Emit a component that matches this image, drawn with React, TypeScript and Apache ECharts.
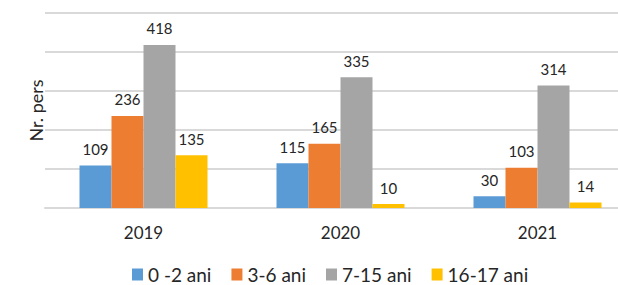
import React, { useEffect, useRef } from "react";
import * as echarts from "echarts";

const categories = ["2019", "2020", "2021"];
const seriesNames = ["0 -2 ani", "3-6 ani", "7-15 ani", "16-17 ani"];
const values0_2 = [109, 115, 30];
const values3_6 = [236, 165, 103];
const values7_15 = [418, 335, 314];
const values16_17 = [135, 10, 14];
const colors = ["#5B9BD5", "#ED7D31", "#A5A5A5", "#FFC000"];

const FONT = "Lato, 'Open Sans', sans-serif";
const TEXT = "#262626";

export default function App() {
  const ref = useRef<HTMLDivElement>(null);
  useEffect(() => {
    if (!ref.current) return;
    const chart = echarts.init(ref.current, undefined, { renderer: "svg" });
    const data = [values0_2, values3_6, values7_15, values16_17];
    chart.setOption({
      animation: false,
      backgroundColor: "#ffffff",
      textStyle: { fontFamily: FONT },
      grid: { left: 45, top: 13, width: 591, height: 195 },
      legend: {
        bottom: 1,
        left: 132,
        padding: 0,
        itemWidth: 11,
        itemHeight: 12,
        itemGap: 20,
        icon: "rect",
        textStyle: { fontSize: 19, color: TEXT, fontFamily: FONT },
        data: seriesNames,
      },
      xAxis: {
        type: "category",
        data: categories,
        axisTick: { show: false },
        axisLine: { lineStyle: { color: "#D9D9D9", width: 2 } },
        axisLabel: { fontSize: 17, color: TEXT, margin: 16, fontFamily: FONT },
      },
      yAxis: {
        type: "value",
        min: 0,
        max: 500,
        interval: 100,
        name: "Nr. pers",
        nameLocation: "middle",
        nameGap: 0,
        nameTextStyle: { fontSize: 18, color: TEXT, fontFamily: FONT },
        axisLabel: { show: false },
        axisTick: { show: false },
        axisLine: { show: false },
        splitLine: { lineStyle: { color: "#D9D9D9", width: 2 } },
      },
      series: seriesNames.map((name, i) => ({
        name,
        type: "bar",
        data: data[i],
        barWidth: 32,
        barGap: "0%",
        itemStyle: { color: colors[i] },
        label: {
          show: true,
          position: "top",
          distance: 9,
          fontSize: 15,
          color: TEXT,
          fontFamily: FONT,
        },
      })),
    });
    return () => chart.dispose();
  }, []);
  return (
    <div
      style={{
        position: "fixed",
        left: 0,
        top: 0,
        width: 618,
        height: 285,
        overflow: "hidden",
        background: "#fff",
      }}
    >
      <div ref={ref} style={{ width: 640, height: 285 }} />
    </div>
  );
}
